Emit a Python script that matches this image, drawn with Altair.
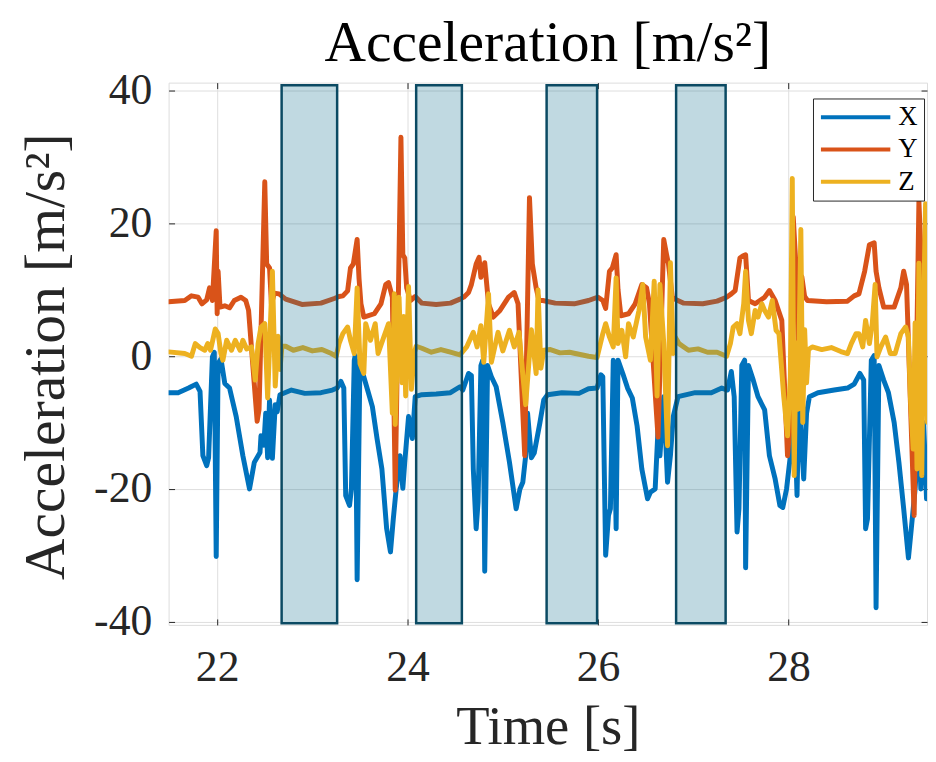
import altair as alt
import pandas as pd

# ---- data ----
series_names = ["X", "Y", "Z"]
series_colors = ["#0072BD", "#D95319", "#EDB120"]

t_x = [21.49, 21.59, 21.70, 21.78, 21.82, 21.85, 21.89, 21.91, 21.95, 21.97, 21.99, 22.01, 22.04, 22.08,
       22.13, 22.20, 22.27, 22.34, 22.39, 22.45, 22.46, 22.49, 22.51, 22.53, 22.55, 22.58, 22.61, 22.63,
       22.66, 22.78, 22.92, 23.09, 23.21, 23.26, 23.30, 23.33, 23.35, 23.39, 23.41, 23.44, 23.45, 23.47,
       23.50, 23.52, 23.58, 23.63, 23.68, 23.73, 23.78, 23.82, 23.85, 23.88, 23.92, 23.95, 23.97, 24.01,
       24.05, 24.08, 24.15, 24.30, 24.45, 24.55, 24.58, 24.64, 24.67, 24.69, 24.72, 24.74, 24.77, 24.79,
       24.81, 24.84, 24.88, 24.93, 25.00, 25.07, 25.14, 25.18, 25.21, 25.24, 25.26, 25.30, 25.33, 25.39,
       25.43, 25.47, 25.62, 25.80, 25.90, 25.99, 26.03, 26.05, 26.08, 26.11, 26.13, 26.16, 26.19, 26.21,
       26.26, 26.31, 26.36, 26.41, 26.46, 26.52, 26.55, 26.60, 26.63, 26.65, 26.69, 26.73, 26.76, 26.79,
       26.84, 27.02, 27.19, 27.30, 27.36, 27.40, 27.43, 27.46, 27.48, 27.51, 27.54, 27.55, 27.58, 27.63,
       27.68, 27.75, 27.80, 27.86, 27.91, 27.94, 27.98, 28.02, 28.04, 28.09, 28.11, 28.16, 28.19, 28.22,
       28.31, 28.48, 28.62, 28.69, 28.75, 28.79, 28.81, 28.83, 28.87, 28.90, 28.92, 28.95, 29.00, 29.05,
       29.11, 29.16, 29.21, 29.26, 29.29, 29.33, 29.37, 29.39, 29.42, 29.45, 29.47]
v_x = [-5.5, -5.5, -4.8, -4.2, -5.3, -15.0, -16.5, -15.3, -0.1, 0.6, -30.2, -1.1, -0.4, -4.1,
       -4.8, -9.1, -15.0, -20.0, -16.0, -14.5, -12.0, -13.4, -8.6, -15.3, -6.6, -15.4, -7.3, -8.4,
       -5.8, -5.1, -5.6, -5.5, -5.1, -4.8, -3.8, -4.8, -21.0, -22.5, -20.0, -0.6, 0.1, -33.7,
       -0.6, -2.1, -5.1, -7.6, -12.5, -17.0, -26.0, -29.5, -24.5, -20.0, -15.0, -19.9, -16.0, -9.1,
       -12.4, -6.1, -5.8, -5.7, -5.5, -4.6, -5.1, -2.6, -2.9, -17.0, -26.0, -22.0, -1.4, -0.6,
       -32.4, -1.4, -3.1, -4.6, -10.0, -16.0, -23.0, -20.0, -19.0, -15.0, -8.6, -15.3, -14.6, -10.0,
       -6.6, -5.8, -5.5, -5.6, -4.9, -4.8, -2.8, -3.1, -30.0, -24.0, -23.0, -0.6, -26.0, -0.6,
       -2.6, -4.8, -6.3, -10.5, -17.0, -21.5, -20.5, -20.0, -11.0, -15.0, -6.1, -19.0, -15.0, -9.1,
       -6.1, -5.5, -5.5, -4.8, -5.1, -2.3, -6.1, -26.5, -23.0, -1.4, -0.6, -31.9, -1.4, -3.6,
       -6.1, -8.1, -15.0, -18.5, -22.5, -22.8, -20.0, -15.0, 3.0, -21.0, -6.1, -18.5, -8.6, -6.1,
       -5.5, -5.1, -4.8, -4.2, -2.6, -3.6, -26.0, -24.5, -0.6, 0.1, -37.9, -1.4, -3.6, -5.5,
       -10.0, -16.0, -23.0, -30.4, -26.0, -20.0, -11.0, -20.0, -10.0, -21.5, -14.0]

t_y = [21.49, 21.66, 21.73, 21.80, 21.84, 21.89, 21.92, 21.95, 21.99, 22.00, 22.01, 22.03, 22.08, 22.13,
       22.18, 22.25, 22.30, 22.33, 22.42, 22.44, 22.50, 22.52, 22.55, 22.57, 22.60, 22.65, 22.72, 22.89,
       23.09, 23.23, 23.28, 23.32, 23.37, 23.40, 23.43, 23.47, 23.49, 23.51, 23.54, 23.65, 23.72, 23.77,
       23.80, 23.84, 23.87, 23.93, 23.95, 23.97, 23.99, 24.03, 24.08, 24.15, 24.30, 24.45, 24.55, 24.59,
       24.64, 24.67, 24.72, 24.75, 24.77, 24.81, 24.85, 24.90, 24.97, 25.06, 25.12, 25.16, 25.23, 25.28,
       25.31, 25.35, 25.38, 25.42, 25.55, 25.75, 25.90, 26.00, 26.05, 26.08, 26.12, 26.15, 26.19, 26.21,
       26.24, 26.32, 26.39, 26.46, 26.51, 26.54, 26.63, 26.69, 26.72, 26.74, 26.78, 26.81, 26.90, 27.10,
       27.25, 27.35, 27.40, 27.44, 27.49, 27.52, 27.55, 27.58, 27.65, 27.75, 27.80, 27.86, 27.93, 27.99,
       28.02, 28.05, 28.08, 28.11, 28.14, 28.17, 28.20, 28.40, 28.62, 28.69, 28.74, 28.80, 28.85, 28.90,
       28.92, 28.95, 29.00, 29.11, 29.18, 29.21, 29.24, 29.32, 29.37, 29.40, 29.44, 29.47]
v_y = [8.2, 8.4, 9.1, 8.9, 7.9, 8.5, 10.3, 8.4, 18.9, 6.4, 12.8, 7.4, 7.6, 7.3,
       8.4, 8.9, 8.4, 6.9, -9.8, -8.0, 26.3, 13.9, 13.3, 7.8, 9.5, 9.4, 8.6, 7.8,
       8.0, 8.7, 9.0, 9.1, 9.85, 13.3, 13.9, 17.6, 11.7, 7.9, 5.9, 6.4, 7.9, 10.8,
       11.1, 8.9, -20.2, 33.0, 15.3, 14.8, 10.3, 8.4, 9.0, 8.0, 7.8, 8.0, 8.6, 8.9,
       9.6, 10.8, 13.9, 14.9, 11.9, 14.1, 7.9, 5.9, 6.9, 8.9, 9.6, 7.9, -15.0, 23.9,
       13.9, 10.3, 8.4, 8.4, 8.0, 7.9, 8.4, 8.9, 8.4, 7.2, 12.8, 13.3, 15.3, 10.0,
       6.1, 6.4, 7.9, 10.8, 10.3, 7.9, -12.2, 17.6, 15.3, 13.9, 8.9, 8.6, 8.0, 7.9,
       8.3, 8.9, 9.4, 9.9, 14.8, 15.1, 15.3, 8.4, 7.9, 8.9, 9.9, 8.4, 5.4, -15.0,
       -10.0, 21.0, 13.3, -3.0, 12.0, 9.0, 8.4, 8.2, 8.3, 9.1, 9.4, 12.8, 16.8, 17.1,
       12.8, 10.3, 7.4, 7.4, 10.3, 12.8, 10.8, -24.0, 23.3, 12.8, 7.9, 8.0]

t_z = [21.49, 21.66, 21.73, 21.77, 21.82, 21.87, 21.90, 21.93, 21.98, 22.01, 22.04, 22.06, 22.10, 22.15,
       22.19, 22.24, 22.27, 22.31, 22.36, 22.40, 22.43, 22.46, 22.50, 22.53, 22.58, 22.61, 22.64, 22.66,
       22.68, 22.72, 22.80, 22.90, 23.00, 23.10, 23.20, 23.25, 23.28, 23.32, 23.37, 23.40, 23.44, 23.47,
       23.50, 23.54, 23.56, 23.61, 23.66, 23.69, 23.75, 23.80, 23.84, 23.86, 23.87, 23.91, 23.94, 23.96,
       23.98, 24.01, 24.04, 24.07, 24.09, 24.15, 24.25, 24.35, 24.45, 24.55, 24.62, 24.69, 24.73, 24.77,
       24.80, 24.85, 24.88, 24.95, 25.00, 25.07, 25.12, 25.17, 25.21, 25.24, 25.30, 25.35, 25.37, 25.40,
       25.43, 25.50, 25.60, 25.70, 25.80, 25.90, 25.99, 26.05, 26.08, 26.12, 26.16, 26.19, 26.21, 26.25,
       26.29, 26.32, 26.37, 26.43, 26.47, 26.50, 26.55, 26.59, 26.62, 26.65, 26.69, 26.73, 26.76, 26.79,
       26.81, 26.85, 26.95, 27.05, 27.15, 27.25, 27.35, 27.39, 27.42, 27.46, 27.49, 27.53, 27.55, 27.58,
       27.61, 27.65, 27.68, 27.72, 27.75, 27.79, 27.83, 27.87, 27.90, 27.95, 27.99, 28.02, 28.04, 28.06,
       28.08, 28.10, 28.13, 28.15, 28.17, 28.19, 28.21, 28.25, 28.35, 28.45, 28.55, 28.62, 28.66, 28.71,
       28.74, 28.78, 28.81, 28.85, 28.88, 28.91, 28.93, 28.97, 29.02, 29.07, 29.12, 29.18, 29.23, 29.26,
       29.28, 29.31, 29.33, 29.35, 29.37, 29.40, 29.42, 29.44, 29.46, 29.47]
v_z = [0.65, 0.4, 0.0, 1.9, 1.3, 0.9, 1.9, 0.9, 4.1, 3.4, 0.4, -0.6, 2.4, 0.9,
       2.4, 0.9, 2.4, 1.1, 1.4, -3.6, 1.9, 4.4, 4.9, -6.3, 12.8, -4.5, 3.0, -2.0,
       1.5, 1.5, 0.9, 1.3, 0.8, 1.0, 0.4, 0.0, 1.9, 3.4, 4.4, 2.4, 0.4, 10.3,
       -1.1, -2.6, 4.9, 2.4, 4.9, 0.4, 2.9, 4.9, -8.6, 9.4, -10.3, 8.9, -4.0, 6.0,
       -6.0, 10.5, -5.0, 0.5, 1.5, 1.2, 0.6, 1.0, 0.6, 0.2, 1.4, 3.6, 1.4, 4.6,
       -0.9, 9.4, -0.9, 3.6, 0.8, 3.9, 1.4, 3.6, -2.8, -7.3, 4.0, -2.6, 10.0, -1.8,
       0.9, 1.0, 0.5, 0.6, 0.3, 0.0, -0.2, 3.4, 4.9, 2.9, 1.4, 11.8, 1.9, 3.9,
       -0.1, 4.9, 2.9, 6.9, 10.8, 2.9, -0.6, 11.3, -6.0, 10.8, 2.0, -13.5, 14.1, 0.4,
       2.9, 1.9, 0.9, 1.1, 0.6, 0.6, 0.0, 1.9, 4.4, 4.9, 3.4, 7.9, 12.8, 5.4,
       3.4, 6.9, 5.9, 7.9, 6.9, 5.9, 8.4, 3.9, 3.4, -6.0, -12.0, -3.0, 26.8, -18.0,
       2.0, -8.0, 19.1, -10.0, 4.0, -4.0, 1.0, 1.4, 1.0, 1.3, 0.7, 0.4, 1.9, 3.4,
       3.4, 1.4, 5.4, 1.9, 4.9, 10.8, -0.1, 1.4, 2.9, 0.4, 0.4, 3.4, 4.4, 2.9,
       -6.0, -14.0, 5.0, -17.0, 14.0, -18.0, 8.0, 23.0, -10.0, 5.0]

# shaded time windows
win_start = [22.677, 24.09, 25.46, 26.82]
win_end = [23.26, 24.57, 25.99, 27.34]
win_low = [-40.26, -40.26, -40.26, -40.26]
win_high = [40.84, 40.84, 40.84, 40.84]

x_ticks = [22, 24, 26, 28]
y_ticks = [-40, -20, 0, 20, 40]
x_domain = [21.49, 29.455]
y_domain = [-40.5, 41.24]

# ---- tables ----
rows = []
for name, ts, vs in zip(series_names, [t_x, t_y, t_z], [v_x, v_y, v_z]):
    for t, v in zip(ts, vs):
        rows.append({"time": t, "acc": v, "axis": name})
lines_df = pd.DataFrame(rows)
win_df = pd.DataFrame({"t0": win_start, "t1": win_end, "lo": win_low, "hi": win_high})

FONT = "Liberation Serif"
TXT = "#262626"

xs = alt.Scale(domain=x_domain, nice=False, zero=False)
ys = alt.Scale(domain=y_domain, nice=False, zero=False)

lines = alt.Chart(lines_df).mark_line(
    strokeWidth=5, strokeJoin="round", strokeCap="round", clip=True
).encode(
    x=alt.X("time:Q", scale=xs, axis=alt.Axis(
        values=x_ticks, title="Time [s]", orient="bottom", offset=-6, tickSize=6,
        tickColor=TXT, domain=False, grid=True, gridColor="#dedede", gridWidth=1,
        labelFont=FONT, labelFontSize=44, labelColor=TXT, labelPadding=21,
        titleFont=FONT, titleFontSize=55, titleFontWeight="normal", titleColor=TXT,
        titleBaseline="alphabetic", titleY=126)),
    y=alt.Y("acc:Q", scale=ys, axis=alt.Axis(
        values=y_ticks, title="Acceleration [m/s²]", orient="left", offset=-6, tickSize=6,
        tickColor=TXT, domain=False, grid=True, gridColor="#dedede", gridWidth=1,
        labelFont=FONT, labelFontSize=44, labelColor=TXT, labelPadding=17,
        labelExpr="'' + datum.value",
        titleFont=FONT, titleFontSize=58, titleFontWeight="normal", titleColor=TXT,
        titleBaseline="alphabetic", titleAngle=270, titleAlign="center",
        titleX=-112, titleY=276)),
    color=alt.Color("axis:N", scale=alt.Scale(domain=series_names, range=series_colors),
                    legend=alt.Legend(
                        title=None, orient="none", legendX=650, legendY=16,
                        symbolType="stroke", symbolSize=4900, symbolStrokeWidth=4,
                        labelFont=FONT, labelFontSize=27, labelColor="black",
                        strokeColor="#262626", fillColor="white", padding=6,
                        rowPadding=5.5, clipHeight=26, labelOffset=6)),
)

windows = alt.Chart(win_df).mark_rect(
    fill="#17738f", fillOpacity=0.27, stroke="#0b4a63", strokeWidth=2.5, strokeOpacity=1
).encode(
    x=alt.X("t0:Q", scale=xs, axis=alt.Axis(
        values=x_ticks, orient="top", offset=-6, tickSize=6, tickColor=TXT,
        labels=False, domain=False, grid=False, title=None)),
    x2="t1:Q",
    y=alt.Y("lo:Q", scale=ys, axis=alt.Axis(
        values=y_ticks, orient="right", offset=-6, tickSize=6, tickColor=TXT,
        labels=False, domain=False, grid=False, title=None)),
    y2="hi:Q",
)

chart = alt.layer(lines, windows).resolve_axis(
    x="independent", y="independent"
).properties(
    width=765, height=547,
    title=alt.TitleParams("Acceleration [m/s²]", font=FONT, fontSize=58, fontWeight="normal",
                          color="black", offset=0, dy=4, anchor="middle"),
    autosize=alt.AutoSizeParams(type="none"),
    padding={"left": 162, "top": 72, "right": 1, "bottom": 132},
).configure_view(
    stroke="#262626", strokeWidth=1.2, fill="white"
).configure_axis(
    labelFont=FONT, titleFont=FONT
).configure(background="white")

chart.save("out.html", embed_options={"renderer": "svg", "actions": False})
